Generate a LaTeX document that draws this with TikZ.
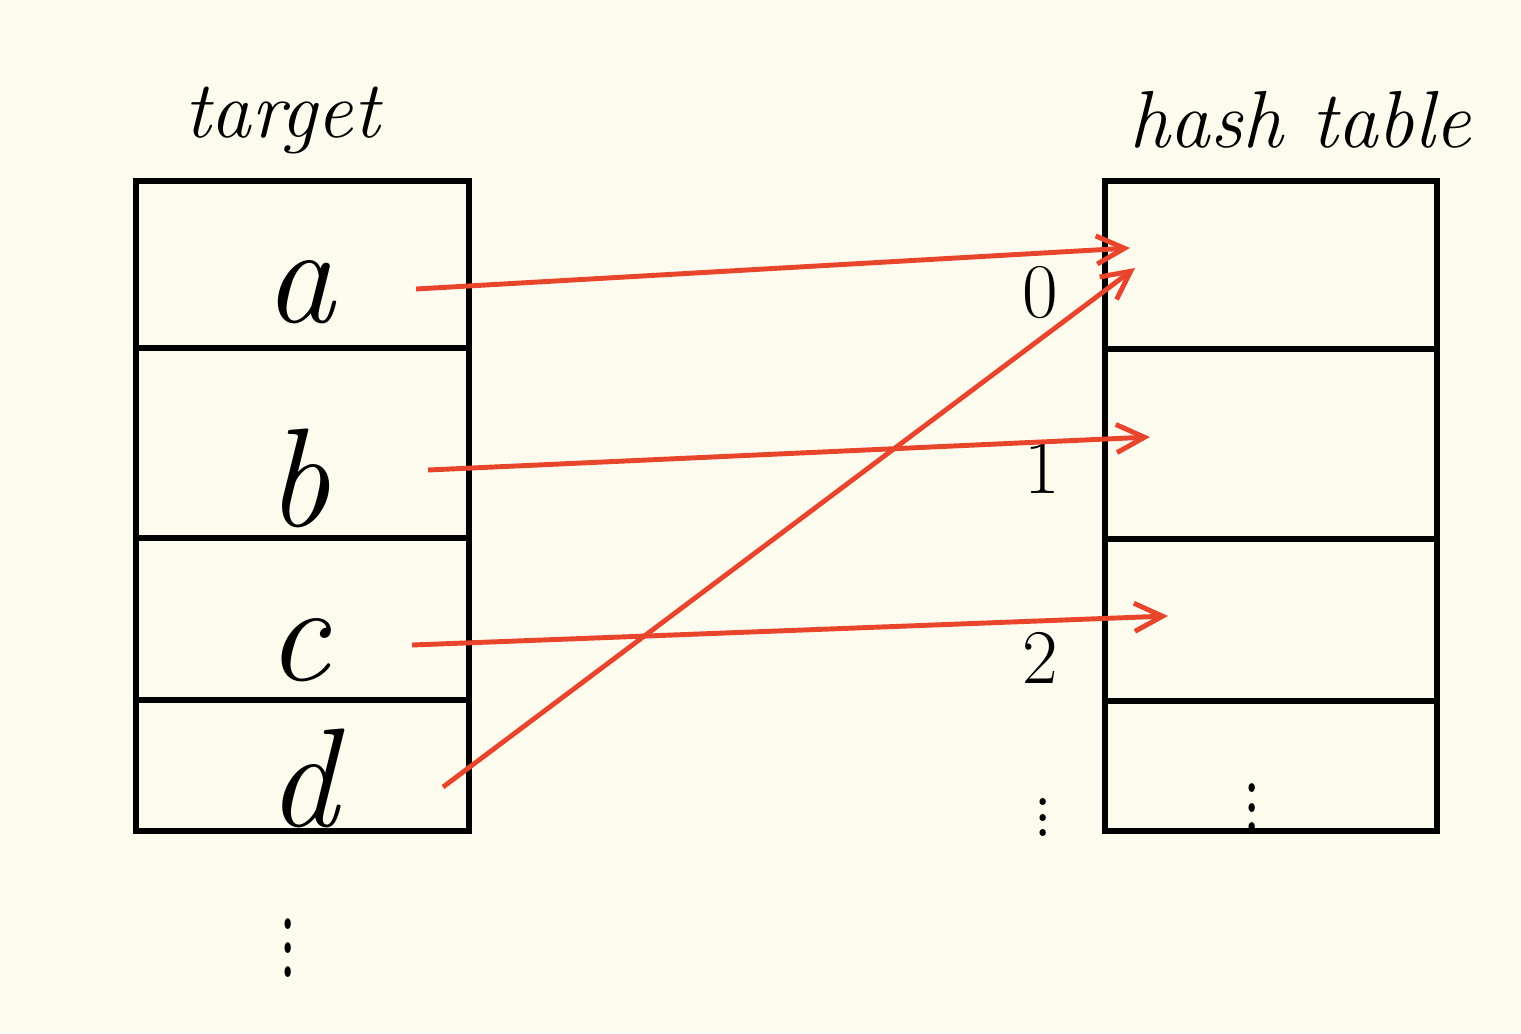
\documentclass[tikz,border=0pt]{standalone}
\usepackage{xcolor}
\usepackage{graphicx}
\definecolor{paper}   {HTML}{FDFBEE}
\definecolor{linkred} {HTML}{E8452C}
\usetikzlibrary{arrows.meta, positioning, calc}

\begin{document}
\begin{tikzpicture}[x=0.01cm, y=-0.01cm,
    cellline/.style={line width=1.6pt},
    keylabel/.style={font=\fontsize{40}{44}\selectfont\itshape},
    idxlabel/.style={font=\fontsize{22}{24}\selectfont},
    headlabel/.style={font=\fontsize{23}{27}\selectfont\itshape},
    moreval/.style={font=\fontsize{22}{24}\selectfont, inner sep=0pt},
    maplink/.style={linkred, line width=1.4pt, -{Straight Barb[length=8pt, width=8pt]}}]
    % page
    \fill[paper] (0,0) rectangle (1521,1033);
    \useasboundingbox (0,0) rectangle (1521,1033);
    % target column: row borders at y = 181, 348, 538, 700, 831
    \draw[cellline] (136,181) rectangle (469,831);
    \foreach \yy in {348,538,700}
        \draw[cellline] (133,\yy) -- (469,\yy);
    % hash table column
    \draw[cellline] (1105,181) rectangle (1437,831);
    \foreach \yy in {349,539,701}
        \draw[cellline] (1102,\yy) -- (1437,\yy);
    % headings
    \node[headlabel] (tgt) at (282,120) {target};
    \node[headlabel] (tbl) at (1300,120) {hash table};
    % keys
    \node[keylabel] (ka) at (300,292) {a};
    \node[keylabel] (kb) at (298,478) {b};
    \node[keylabel] (kc) at (298,650) {c};
    \node[keylabel] (kd) at (303,778) {d};
    \node[moreval] (kmore) at (288,930) {\scalebox{1}[1.7]{$\vdots$}};
    % bucket indices
    \node[idxlabel] (i0) at (1040,293) {0};
    \node[idxlabel] (i1) at (1042,468) {1};
    \node[idxlabel] (i2) at (1040,658) {2};
    \node[moreval] (imore) at (1043,806) {\scalebox{1}[1.1]{$\vdots$}};
    \node[moreval] (bmore) at (1252,793) {\scalebox{1}[1.4]{$\vdots$}};
    % link ends
    \coordinate (sa) at (416,289);
    \coordinate (sb) at (428,470);
    \coordinate (sc) at (412,645);
    \coordinate (sd) at (443,787);
    \coordinate (ea) at (1130,248);
    \coordinate (eb) at (1150,437);
    \coordinate (ec) at (1168,616);
    \coordinate (ed) at (1135,268);
    \draw[maplink] (sa) -- (ea);
    \draw[maplink] (sb) -- (eb);
    \draw[maplink] (sc) -- (ec);
    \draw[maplink] (sd) -- (ed);
\end{tikzpicture}
\end{document}
